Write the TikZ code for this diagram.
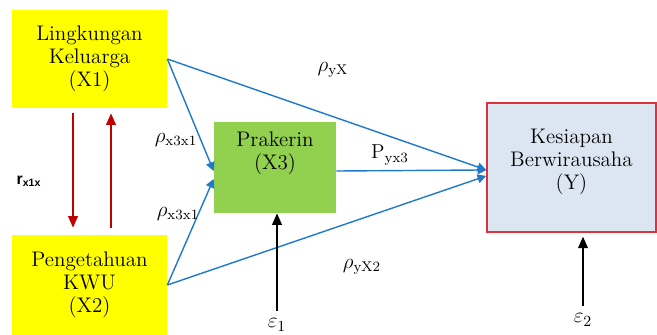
\documentclass[tikz,border=0pt]{standalone}
\usepackage{fontspec}
\newfontfamily\labelsans{Liberation Sans}
\usetikzlibrary{arrows.meta}
\definecolor{boxyellow}{HTML}{FFFF00}
\definecolor{boxgreen}{HTML}{92D050}
\definecolor{boxblue}{HTML}{DCE6F2}
\definecolor{borderred}{HTML}{E0303A}
\definecolor{lineblue}{HTML}{1F7BC8}
\definecolor{arrowred}{HTML}{C00000}
\begin{document}
\begin{tikzpicture}[
    var/.style={align=center, font=\fontsize{12}{13.2}\selectfont, inner sep=0pt},
    path/.style={-{Triangle[length=5pt,width=5pt]}, draw=lineblue, fill=lineblue, line width=0.8pt},
    corr/.style={-{Triangle[length=6.5pt,width=5.5pt]}, draw=arrowred, fill=arrowred, line width=0.8pt},
    err/.style={-{Triangle[length=6.5pt,width=5.5pt]}, line width=0.9pt},
    coef/.style={font=\fontsize{11.5}{12}\selectfont, inner sep=1pt}
  ]
    \useasboundingbox (0,0) rectangle (13.14,6.7);

    \node[var, fill=boxyellow, minimum width=3.1cm, minimum height=1.96cm] (x1) at (1.79,5.52) {Lingkungan\\Keluarga\\(X1)};
    \node[var, fill=boxyellow, minimum width=3.1cm, minimum height=2cm]    (x2) at (1.79,1.0)  {Pengetahuan\\KWU\\(X2)};
    \node[var, fill=boxgreen, minimum width=2.44cm, minimum height=1.82cm] (x3) at (5.5,3.35)  {Prakerin\\(X3)\\[6pt]};
    \node[var, fill=boxblue, draw=borderred, line width=0.8pt, minimum width=3.38cm, minimum height=2.58cm] (y) at (11.43,3.35) {Kesiapan\\Berwirausaha\\(Y)\\[-4pt]};

    \draw[corr] ([xshift=-0.33cm,yshift=-0.1cm]x1.south) -- ([xshift=-0.33cm,yshift=0.14cm]x2.north);
    \draw[corr] ([xshift=0.43cm,yshift=0.14cm]x2.north) -- ([xshift=0.43cm,yshift=-0.1cm]x1.south);

    \draw[path] (x1.east) -- ([yshift=-2pt]x3.west);
    \draw[path] (x2.east) -- ([yshift=-6.5pt]x3.west);
    \draw[path] (x1.east) -- ([yshift=-1.4pt]y.west);
    \draw[path] (x2.east) -- ([yshift=-4.8pt]y.west);
    \draw[path] ([yshift=-2pt]x3.east) -- ([yshift=-1.4pt]y.west);

    \node[coef, font=\labelsans\bfseries\fontsize{9}{10}\selectfont] (rx) at (0.58,3.08) {r\textsubscript{x1x}};
    \node[coef] (p31a) at (3.52,3.9)  {$\rho$\textsubscript{x3x1}};
    \node[coef] (p31b) at (3.56,2.42) {$\rho$\textsubscript{x3x1}};
    \node[coef] (pyx)  at (6.66,5.3)  {$\rho$\textsubscript{yX}};
    \node[coef] (pyx3) at (7.8,3.6)   {P\textsubscript{yx3}};
    \node[coef] (pyx2) at (7.24,1.36) {$\rho$\textsubscript{yX2}};

    \node[coef, font=\fontsize{12.5}{13}\selectfont] (e1) at (5.54,0.2) {$\varepsilon$\textsubscript{1}};
    \node[coef, font=\fontsize{12.5}{13}\selectfont] (e2) at (11.66,0.3) {$\varepsilon$\textsubscript{2}};
    \draw[err] ([yshift=0.12cm]e1.north) -- (e1.north |- x3.south);
    \draw[err] ([yshift=0.12cm]e2.north) -- ([yshift=-0.08cm]e2.north |- y.south);
  \end{tikzpicture}
\end{document}
